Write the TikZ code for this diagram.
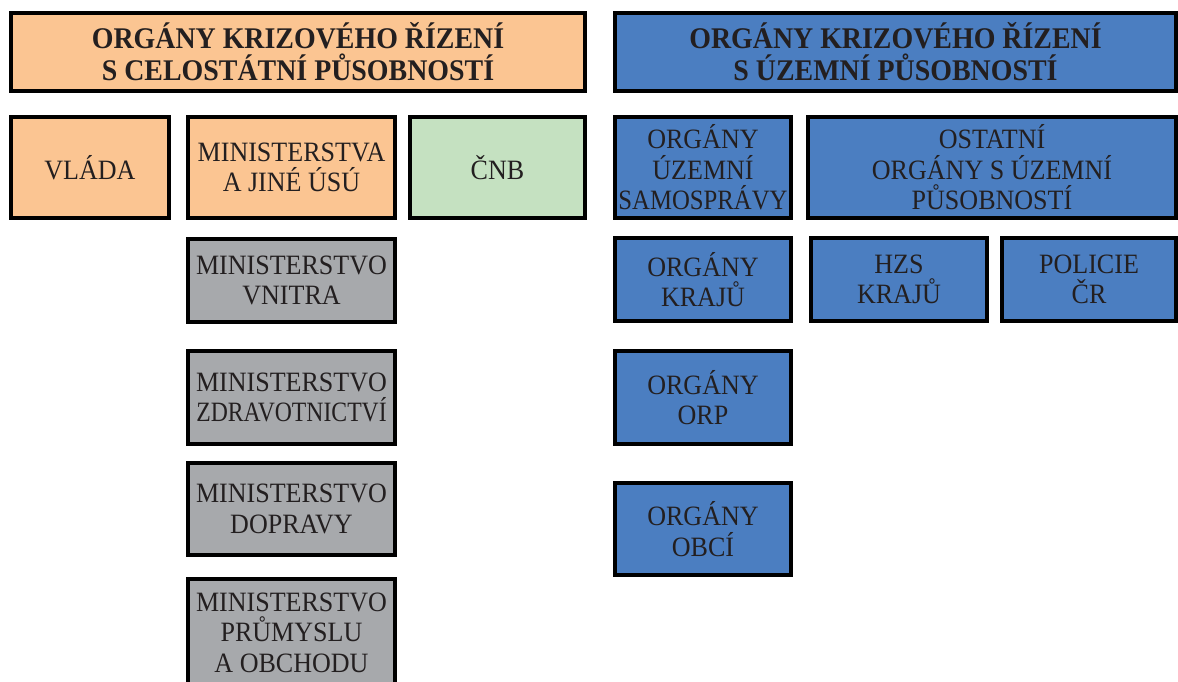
\documentclass[tikz,border=0pt]{standalone}
\usepackage{fontspec}
\usepackage{graphicx}
\setmainfont[FakeStretch=0.93]{Liberation Serif}
\definecolor{peach}{HTML}{FBC592}
\definecolor{mint}{HTML}{C5E1C1}
\definecolor{steel}{HTML}{4B7EC1}
\definecolor{ash}{HTML}{A7A9AC}
\definecolor{ink}{HTML}{231F20}
\tikzset{
  box/.style={draw=black, line width=4pt, anchor=north west, inner sep=0pt, outer sep=0pt,
    align=center, text=ink, font=\fontsize{28}{30.5}\selectfont},
  head/.style={box, font=\bfseries\fontsize{30}{32}\selectfont},
  orange/.style={fill=peach},
  green/.style={fill=mint},
  blue/.style={fill=steel},
  grey/.style={fill=ash}
}
\begin{document}
\begin{tikzpicture}[x=1pt,y=-1pt]
\useasboundingbox (0,0) rectangle (1178,681);
\clip (0,0) rectangle (1178,681);
% left part
\node[head,orange,minimum width=574pt,minimum height=78pt] (hL) at (11,13) {ORGÁNY KRIZOVÉHO ŘÍZENÍ\\S CELOSTÁTNÍ PŮSOBNOSTÍ};
\node[box,orange,minimum width=158pt,minimum height=101pt] (vlada) at (11,117) {VLÁDA};
\node[box,orange,minimum width=207pt,minimum height=101pt] (min) at (188,117) {MINISTERSTVA\\A JINÉ ÚSÚ};
\node[box,green,minimum width=175pt,minimum height=101pt] (cnb) at (410,117) {ČNB};
\node[box,grey,minimum width=207pt,minimum height=83pt] (mv) at (188,239) {MINISTERSTVO\\VNITRA};
\node[box,grey,minimum width=207pt,minimum height=93pt] (mz) at (188,351) {MINISTERSTVO\\\scalebox{0.91}[1]{ZDRAVOTNICTVÍ}};
\node[box,grey,minimum width=207pt,minimum height=92pt] (md) at (188,463) {MINISTERSTVO\\DOPRAVY};
\node[box,grey,minimum width=207pt,minimum height=107pt] (mpo) at (188,579) {MINISTERSTVO\\PRŮMYSLU\\A OBCHODU};
% right part
\node[head,blue,minimum width=561pt,minimum height=78pt] (hR) at (615,13) {ORGÁNY KRIZOVÉHO ŘÍZENÍ\\S ÚZEMNÍ PŮSOBNOSTÍ};
\node[box,blue,minimum width=176pt,minimum height=101pt] (uzs) at (615,117) {ORGÁNY\\ÚZEMNÍ\\\scalebox{0.95}[1]{SAMOSPRÁVY}};
\node[box,blue,minimum width=368pt,minimum height=101pt] (ost) at (808,117) {OSTATNÍ\\ORGÁNY S ÚZEMNÍ\\PŮSOBNOSTÍ};
\node[box,blue,minimum width=176pt,minimum height=83pt] (kraj) at (615,238) {ORGÁNY\\KRAJŮ};
\node[box,blue,minimum width=176pt,minimum height=83pt] (hzs) at (811,238) {HZS\\KRAJŮ};
\node[box,blue,minimum width=174pt,minimum height=83pt] (pcr) at (1002,238) {POLICIE\\ČR};
\node[box,blue,minimum width=176pt,minimum height=93pt] (orp) at (615,351) {ORGÁNY\\ORP};
\node[box,blue,minimum width=176pt,minimum height=92pt] (obce) at (615,483) {ORGÁNY\\OBCÍ};
\end{tikzpicture}
\end{document}
